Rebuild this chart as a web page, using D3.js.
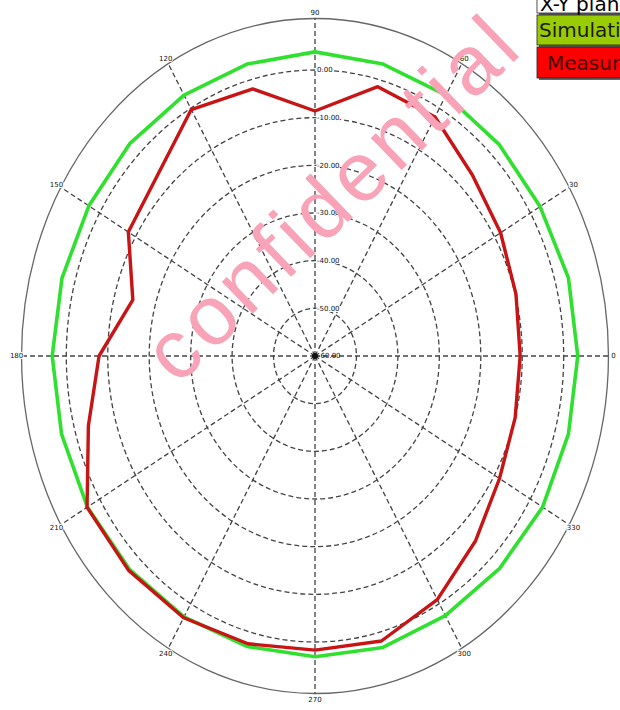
<!DOCTYPE html>
<html lang="en">
<head>
<meta charset="utf-8">
<script src="https://d3js.org/d3.v7.min.js"></script>
<style>
body { margin: 0; background: #fff; }
svg { display: block; }
.grid { fill: none; stroke: #444; stroke-width: 1.3; stroke-dasharray: 5,3; }
.tick-label { font-family: "DejaVu Sans", sans-serif; font-size: 7px; fill: #111; }
.legend-text { font-family: "DejaVu Sans", sans-serif; font-size: 20px; }
</style>
</head>
<body>
<div id="chart"></div>
<script>
// angles (deg) of the measured / simulated points
var angles = [0, 15, 30, 45, 60, 75, 90, 105, 120, 135, 150, 165,
              180, 195, 210, 225, 240, 255, 270, 285, 300, 315, 330, 345];

// gain (dB)
var simulation = [3.4, 3.3, 2.7, 2.8, 3.2, 3.4, 3.8, 3.4, 3.2, 3.1, 3.0, 3.2,
                  3.4, 3.3, 3.4, 3.3, 3.2, 3.1, 3.1, 3.3, 2.9, 3.0, 3.4, 3.3];
var measured   = [-10.5, -9.8, -8.3, -6.3, -2.1, -1.5, -8.6, -2.0, -0.3, -6.3, -8.0, -14.5,
                  -7.9, -3.4, 3.5, 3.6, 3.4, 2.5, 1.7, 1.9, -1.0, -5.2, -8.6, -10.0];

var ringValues = [-50, -40, -30, -20, -10, 0];
var ringLabels = ["-50.00", "-40.00", "-30.00", "-20.00", "-10.00", "0.00"];
var centerLabel = "-60.00";
var spokeAngles = [0, 30, 60, 90, 120, 150, 180, 210, 240, 270, 300, 330];
var spokeLabels = ["0", "30", "60", "90", "120", "150", "180", "210", "240", "270", "300", "330"];
var legendNames = ["X-Y plane", "Simulation", "Measured"];

var width = 620, height = 710;
var cx = 315, cy = 356;
var squash = 1.15;          // plot is drawn a bit narrower than tall
var frameDb = 10.8;         // solid outer border

var r = d3.scaleLinear().domain([-60, 0]).range([0, 286]);

function pt(deg, v) {
  var a = deg * Math.PI / 180, rr = r(v);
  return [cx + rr * Math.cos(a) / squash, cy - rr * Math.sin(a)];
}

var svg = d3.select("#chart").append("svg")
  .attr("width", width)
  .attr("height", height);

// outer frame
svg.append("ellipse")
  .attr("cx", cx).attr("cy", cy)
  .attr("rx", r(frameDb) / squash).attr("ry", r(frameDb))
  .attr("fill", "none").attr("stroke", "#666").attr("stroke-width", 1.3);

// dashed rings
svg.selectAll("ellipse.grid")
  .data(ringValues)
  .enter().append("ellipse")
  .attr("class", "grid")
  .attr("cx", cx).attr("cy", cy)
  .attr("rx", function(d) { return r(d) / squash; })
  .attr("ry", function(d) { return r(d); });

// spokes
svg.selectAll("line.grid")
  .data(spokeAngles)
  .enter().append("line")
  .attr("class", "grid")
  .attr("x1", cx).attr("y1", cy)
  .attr("x2", function(d) { return pt(d, frameDb)[0]; })
  .attr("y2", function(d) { return pt(d, frameDb)[1]; });

// traces
var line = d3.line().curve(d3.curveLinearClosed);

svg.append("path")
  .attr("d", line(angles.map(function(a, i) { return pt(a, simulation[i]); })))
  .attr("fill", "none")
  .attr("stroke", "#2fe02f")
  .attr("stroke-width", 3.6)
  .attr("stroke-linejoin", "round");

svg.append("path")
  .attr("d", line(angles.map(function(a, i) { return pt(a, measured[i]); })))
  .attr("fill", "none")
  .attr("stroke", "#c81414")
  .attr("stroke-width", 3.4)
  .attr("stroke-linejoin", "round");

// ring labels along the 90 deg spoke
svg.selectAll("text.ring")
  .data(ringValues)
  .enter().append("text")
  .attr("class", "tick-label")
  .attr("x", cx + 2)
  .attr("y", function(d) { return cy - r(d); })
  .attr("dy", "0.35em")
  .attr("stroke", "#fff").attr("stroke-width", 2).attr("paint-order", "stroke")
  .text(function(d, i) { return ringLabels[i]; });

svg.append("circle")
  .attr("cx", cx).attr("cy", cy).attr("r", 3)
  .attr("fill", "#111");
svg.append("text")
  .attr("class", "tick-label")
  .attr("x", cx + 3).attr("y", cy).attr("dy", "0.35em")
  .text(centerLabel);

// angle labels on the frame
svg.selectAll("text.ang")
  .data(spokeAngles)
  .enter().append("text")
  .attr("class", "tick-label")
  .attr("x", function(d) { return pt(d, frameDb + 1.2)[0]; })
  .attr("y", function(d) { return pt(d, frameDb + 1.2)[1]; })
  .attr("dy", "0.35em")
  .attr("text-anchor", "middle")
  .attr("stroke", "#fff").attr("stroke-width", 2).attr("paint-order", "stroke")
  .text(function(d, i) { return spokeLabels[i]; });

// watermark
svg.append("text")
  .attr("transform", "translate(352,218) rotate(-44)")
  .attr("text-anchor", "middle")
  .attr("font-family", "Liberation Sans, Arial, sans-serif")
  .attr("font-size", 84)
  .attr("letter-spacing", 5)
  .attr("fill", "#f9a3b8")
  .text("confidential");

// legend
var legend = svg.append("g").attr("transform", "translate(537,0)");
var boxes = [
  { y: -6, h: 19, fill: "#ffffff", text: "#000", dx: 3 },
  { y: 15, h: 30, fill: "#99cc00", text: "#1a1a1a", dx: 2 },
  { y: 47, h: 31, fill: "#ff0000", text: "#400", dx: 10 }
];
boxes.forEach(function(b, i) {
  legend.append("rect")
    .attr("x", 2).attr("y", b.y + 2).attr("width", 100).attr("height", b.h)
    .attr("fill", "#666");
  legend.append("rect")
    .attr("x", 0).attr("y", b.y).attr("width", 100).attr("height", b.h)
    .attr("fill", b.fill).attr("stroke", "#222").attr("stroke-width", 0.8);
  legend.append("text")
    .attr("class", "legend-text")
    .attr("x", b.dx).attr("y", b.y + b.h / 2).attr("dy", "0.36em")
    .attr("fill", b.text)
    .text(legendNames[i]);
});
</script>
</body>
</html>
